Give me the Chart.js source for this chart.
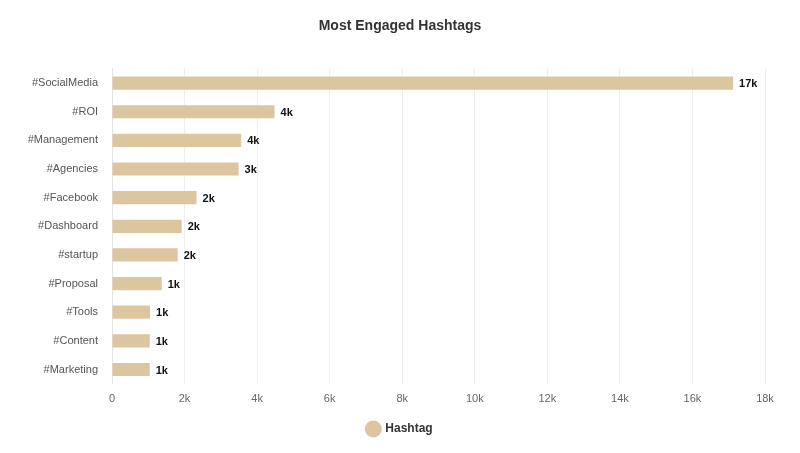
<!DOCTYPE html>
<html>
<head>
<meta charset="utf-8">
<script src="https://cdn.jsdelivr.net/npm/chart.js@4"></script>
<style>
  html, body { margin: 0; padding: 0; background: #fff; }
  #wrap { width: 800px; height: 453px; }
</style>
</head>
<body>
<div id="wrap"><canvas id="chart"></canvas></div>
<script>
var hashtags = ['#SocialMedia', '#ROI', '#Management', '#Agencies', '#Facebook',
  '#Dashboard', '#startup', '#Proposal', '#Tools', '#Content', '#Marketing'];
var engagements = [17120, 4480, 3560, 3490, 2330, 1920, 1810, 1370, 1050, 1040, 1040];
var xTicks = [0, 2000, 4000, 6000, 8000, 10000, 12000, 14000, 16000, 18000];

function kFormat(v) {
  return v === 0 ? '0' : Math.round(v / 1000) + 'k';
}

// draws the value at the end of every bar
var barLabels = {
  id: 'barLabels',
  afterDatasetsDraw: function(chart) {
    var ctx = chart.ctx;
    var meta = chart.getDatasetMeta(0);
    ctx.save();
    ctx.font = 'bold 11px "Liberation Sans", Arial, sans-serif';
    ctx.fillStyle = '#111';
    ctx.textAlign = 'left';
    ctx.textBaseline = 'middle';
    meta.data.forEach(function(bar, i) {
      ctx.fillText(kFormat(chart.data.datasets[0].data[i]), bar.x + 6, bar.y + 1);
    });
    ctx.restore();
  }
};

// keep title and legend centred on the page, not on the padded area
var centreBlocks = {
  id: 'centreBlocks',
  afterLayout: function(chart) {
    [chart.titleBlock, chart.legend].forEach(function(b) {
      if (!b) return;
      b.left = 35;
      b.right = chart.width - 35;
    });
  }
};

new Chart(document.getElementById('chart'), {
  type: 'bar',
  data: {
    labels: hashtags,
    datasets: [{
      label: 'Hashtag',
      data: engagements,
      backgroundColor: '#dcc6a0',
      borderWidth: 0,
      barPercentage: 0.92,
      categoryPercentage: 0.5
    }]
  },
  options: {
    indexAxis: 'y',
    responsive: true,
    maintainAspectRatio: false,
    animation: false,
    layout: { padding: { left: 12, right: 35, top: 0, bottom: 8 } },
    plugins: {
      title: {
        display: true,
        text: 'Most Engaged Hashtags',
        color: '#333',
        font: { family: '"Liberation Sans", Arial, sans-serif', size: 14, weight: 'bold' },
        padding: { top: 18, bottom: 34 }
      },
      legend: {
        position: 'bottom',
        labels: {
          usePointStyle: true,
          pointStyle: 'circle',
          boxWidth: 12,
          boxHeight: 12,
          padding: 8,
          color: '#333',
          font: { family: '"Liberation Sans", Arial, sans-serif', size: 12, weight: 'bold' }
        }
      },
      tooltip: { enabled: false }
    },
    scales: {
      x: {
        min: 0,
        max: 18000,
        afterBuildTicks: function(axis) {
          axis.ticks = xTicks.map(function(v) { return { value: v }; });
        },
        grid: { color: '#eeeeee', drawTicks: false },
        border: { display: false },
        ticks: {
          color: '#666',
          padding: 9,
          font: { family: '"Liberation Sans", Arial, sans-serif', size: 11 },
          callback: function(v) { return kFormat(v); }
        }
      },
      y: {
        afterFit: function(axis) { axis.width = 100; },
        grid: { display: false, drawTicks: false },
        border: { display: true, color: '#e4e4e4' },
        ticks: {
          color: '#555',
          padding: 14,
          font: { family: '"Liberation Sans", Arial, sans-serif', size: 11 }
        }
      }
    }
  },
  plugins: [barLabels, centreBlocks]
});
</script>
</body>
</html>
